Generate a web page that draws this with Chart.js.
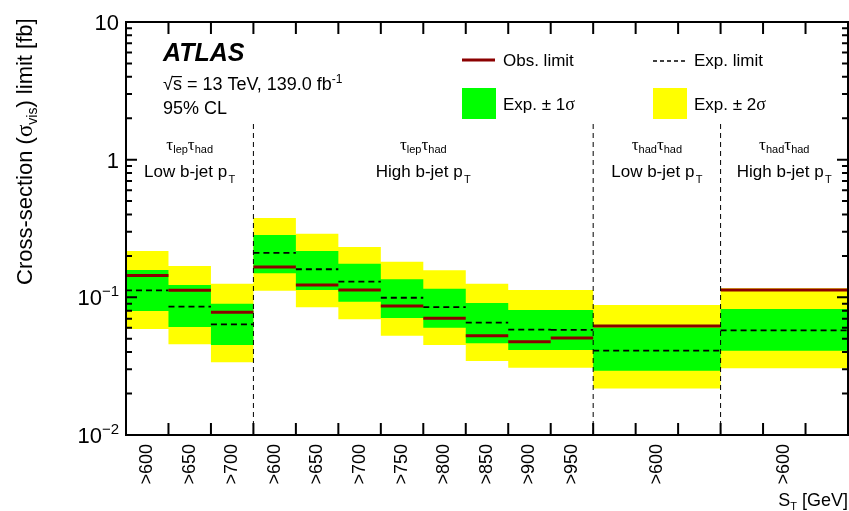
<!DOCTYPE html>
<html>
<head>
<meta charset="utf-8">
<script src="https://cdn.jsdelivr.net/npm/chart.js@4.4.1/dist/chart.umd.min.js"></script>
<style>
    html, body { margin: 0; padding: 0; background: #fff; }
    canvas { display: block; }
</style>
</head>
<body>
<canvas id="limitChart" width="849" height="511"></canvas>
<script>
// bins: left edges in "unit" positions, last entry is the right edge of the last bin
const binEdges = [0, 1, 2, 3, 4, 5, 6, 7, 8, 9, 10, 11, 14, 17];
const xLabels = ['>600', '>650', '>700', '>600', '>650', '>700', '>750', '>800', '>850', '>900', '>950', '>600', '>600'];

// limits in fb, one per bin
const obsLimit = [0.144, 0.1125, 0.078, 0.166, 0.123, 0.113, 0.0865, 0.0704, 0.0526, 0.0476, 0.0506, 0.0619, 0.113];
const expLimit = [0.1125, 0.0855, 0.0637, 0.210, 0.160, 0.130, 0.0993, 0.085, 0.0654, 0.0582, 0.058, 0.041, 0.0576];
const exp1Up   = [0.158, 0.1228, 0.0898, 0.2835, 0.217, 0.1754, 0.1351, 0.1155, 0.0909, 0.0809, 0.0809, 0.0605, 0.0822];
const exp1Down = [0.0796, 0.0608, 0.045, 0.1494, 0.113, 0.0929, 0.0707, 0.0601, 0.0463, 0.0414, 0.0414, 0.0293, 0.041];
const exp2Up   = [0.217, 0.1688, 0.1256, 0.3766, 0.2896, 0.2319, 0.1814, 0.157, 0.1256, 0.113, 0.113, 0.0879, 0.1162];
const exp2Down = [0.0589, 0.0456, 0.0337, 0.1117, 0.0846, 0.0692, 0.0526, 0.045, 0.0345, 0.0308, 0.0308, 0.0218, 0.0305];

// signal regions
const regionEdges = [0, 3, 11, 14, 17];
const regionTau1 = ['lep', 'lep', 'had', 'had'];
const regionTau2 = ['had', 'had', 'had', 'had'];
const regionJet = ['Low', 'High', 'Low', 'High'];
const separatorTop = 1.9;

// y axis
const yTicks = [0.01, 0.1, 1, 10];
const yTickBase = ['10', '10', '1', '10'];
const yTickExp = ['\u22122', '\u22121', '', ''];

const FONT = '"Liberation Sans", Arial, Helvetica, sans-serif';
const GREEK = '"Liberation Serif", "DejaVu Serif", serif';

// stepped histogram points (value held until next edge)
function stepPoints(vals) {
    const pts = vals.map((v, i) => ({ x: binEdges[i], y: v }));
    pts.push({ x: binEdges[vals.length], y: vals[vals.length - 1] });
    return pts;
}

// separate horizontal segments per bin
function segPoints(vals) {
    const pts = [];
    vals.forEach((v, i) => {
        pts.push({ x: binEdges[i], y: v }, { x: binEdges[i + 1], y: v });
        if (i < vals.length - 1) pts.push({ x: binEdges[i + 1], y: null });
    });
    return pts;
}

function separatorPoints() {
    const pts = [];
    regionEdges.slice(1, -1).forEach((e, i) => {
        if (i > 0) pts.push({ x: e, y: null });
        pts.push({ x: e, y: yTicks[0] }, { x: e, y: separatorTop });
    });
    return pts;
}

const labelPos = xLabels.map((l, i) => (binEdges[i] + binEdges[i + 1]) / 2);

// draw a run of text pieces: [text, font, dy]
function rich(ctx, parts, x, y, align) {
    let w = 0;
    parts.forEach(p => { ctx.font = p[1]; w += ctx.measureText(p[0]).width; });
    let cx = align === 'center' ? x - w / 2 : align === 'right' ? x - w : x;
    parts.forEach(p => {
        ctx.font = p[1];
        ctx.fillText(p[0], cx, y + (p[2] || 0));
        cx += ctx.measureText(p[0]).width;
    });
    return w;
}

const framePlugin = {
    id: 'framePlugin',
    afterDatasetsDraw(chart) {
        const { ctx, chartArea: a, scales: { x, y } } = chart;
        ctx.save();
        ctx.strokeStyle = '#000';
        ctx.lineWidth = 2;
        ctx.strokeRect(a.left, a.top, a.right - a.left, a.bottom - a.top);

        ctx.beginPath();
        // x ticks, inward, bottom and top
        for (let i = binEdges[0] + 1; i < binEdges[binEdges.length - 1]; i++) {
            const px = x.getPixelForValue(i);
            ctx.moveTo(px, a.bottom); ctx.lineTo(px, a.bottom - 12);
            ctx.moveTo(px, a.top); ctx.lineTo(px, a.top + 12);
        }
        // y ticks, major + minor, left and right
        for (let d = -2; d < 1 + 1; d++) {
            for (let m = 1; m <= 9; m++) {
                const v = m * Math.pow(10, d);
                if (v <= yTicks[0] || v >= yTicks[yTicks.length - 1]) continue;
                const py = y.getPixelForValue(v);
                const len = m === 1 ? 11 : 6;
                ctx.moveTo(a.left, py); ctx.lineTo(a.left + len, py);
                ctx.moveTo(a.right, py); ctx.lineTo(a.right - len, py);
            }
        }
        ctx.stroke();
        ctx.restore();
    },
    afterDraw(chart) {
        const { ctx, chartArea: a, scales: { x, y } } = chart;
        ctx.save();
        ctx.fillStyle = '#000';
        ctx.textBaseline = 'alphabetic';
        ctx.textAlign = 'left';

        // y tick labels
        yTicks.forEach((v, i) => {
            const py = y.getPixelForValue(v) + 8;
            rich(ctx, [[yTickBase[i], '22px ' + FONT], [yTickExp[i], '15px ' + FONT, -9]], a.left - 7, py, 'right');
        });

        // y title
        ctx.save();
        ctx.translate(32, 285);
        ctx.rotate(-Math.PI / 2);
        rich(ctx, [
            ['Cross-section (', '22px ' + FONT],
            ['\u03c3', '23px ' + GREEK],
            ['vis', '14px ' + FONT, 5],
            [') limit [fb]', '22px ' + FONT]
        ], 0, 0, 'left');
        ctx.restore();

        // x title
        rich(ctx, [['S', '18px ' + FONT], ['T', '11px ' + FONT, 4], [' [GeV]', '18px ' + FONT]], a.right, 506, 'right');

        // ATLAS label
        ctx.font = 'italic bold 25px ' + FONT;
        ctx.fillText('ATLAS', 163, 61);
        ctx.font = '18px ' + FONT;
        ctx.fillText('\u221a', 163, 90);
        let sx = 163 + ctx.measureText('\u221a').width;
        const sw = ctx.measureText('s').width;
        ctx.fillText('s', sx, 90);
        ctx.fillRect(sx - 1, 76, sw + 1, 1.2);
        sx += sw;
        rich(ctx, [[' = 13 TeV, 139.0 fb', '18px ' + FONT], ['-1', '12px ' + FONT, -7]], sx, 90, 'left');
        ctx.font = '18px ' + FONT;
        ctx.fillText('95% CL', 163, 114);

        // region labels
        regionJet.forEach((jet, i) => {
            const cx = x.getPixelForValue((regionEdges[i] + regionEdges[i + 1]) / 2);
            rich(ctx, [
                ['\u03c4', '17px ' + GREEK],
                [regionTau1[i], '11px ' + FONT, 3],
                ['\u03c4', '17px ' + GREEK],
                [regionTau2[i], '11px ' + FONT, 3]
            ], cx, 150, 'center');
            rich(ctx, [[jet + ' b-jet p', '17px ' + FONT], [' ', '5px ' + FONT], ['T', '11px ' + FONT, 6]], cx, 177, 'center');
        });

        // legend
        ctx.strokeStyle = '#8b0000';
        ctx.lineWidth = 3;
        ctx.beginPath(); ctx.moveTo(462, 60); ctx.lineTo(495, 60); ctx.stroke();
        ctx.strokeStyle = '#000';
        ctx.lineWidth = 1.3;
        ctx.setLineDash([4, 3]);
        ctx.beginPath(); ctx.moveTo(653, 61); ctx.lineTo(687, 61); ctx.stroke();
        ctx.setLineDash([]);
        ctx.fillStyle = '#00ff00';
        ctx.fillRect(462, 88, 34, 31);
        ctx.fillStyle = '#ffff00';
        ctx.fillRect(653, 88, 34, 31);
        ctx.fillStyle = '#000';
        ctx.font = '17px ' + FONT;
        ctx.fillText('Obs. limit', 503, 66);
        ctx.fillText('Exp. limit', 694, 66);
        rich(ctx, [['Exp. \u00b1 1', '17px ' + FONT], ['\u03c3', '18px ' + GREEK]], 503, 110, 'left');
        rich(ctx, [['Exp. \u00b1 2', '17px ' + FONT], ['\u03c3', '18px ' + GREEK]], 694, 110, 'left');
        ctx.restore();
    }
};

const bandLine = { borderColor: 'rgba(0,0,0,0)', borderWidth: 0, pointRadius: 0, stepped: true };

new Chart(document.getElementById('limitChart'), {
    type: 'line',
    data: {
        datasets: [
            Object.assign({ data: stepPoints(exp2Up), fill: false, order: 5 }, bandLine),
            Object.assign({ data: stepPoints(exp2Down), fill: '-1', backgroundColor: '#ffff00', order: 5 }, bandLine),
            Object.assign({ data: stepPoints(exp1Up), fill: false, order: 4 }, bandLine),
            Object.assign({ data: stepPoints(exp1Down), fill: '-1', backgroundColor: '#00ff00', order: 4 }, bandLine),
            {
                data: segPoints(expLimit),
                borderColor: '#000',
                borderWidth: 1.8,
                borderDash: [6, 4],
                pointRadius: 0,
                fill: false,
                spanGaps: false,
                order: 2
            },
            {
                data: segPoints(obsLimit),
                borderColor: '#8b0000',
                borderWidth: 3,
                pointRadius: 0,
                fill: false,
                spanGaps: false,
                order: 1
            },
            {
                data: separatorPoints(),
                borderColor: '#000',
                borderWidth: 1,
                borderDash: [5, 4],
                pointRadius: 0,
                fill: false,
                spanGaps: false,
                order: 0
            }
        ]
    },
    options: {
        responsive: false,
        animation: false,
        devicePixelRatio: 1,
        layout: { padding: { left: 0, top: 22, right: 1, bottom: 0 } },
        plugins: {
            legend: { display: false },
            tooltip: { enabled: false }
        },
        elements: { line: { tension: 0 } },
        scales: {
            x: {
                type: 'linear',
                min: binEdges[0],
                max: binEdges[binEdges.length - 1],
                grid: { display: false, drawTicks: false },
                border: { display: false },
                afterBuildTicks(scale) {
                    scale.ticks = labelPos.map(v => ({ value: v }));
                },
                afterFit(scale) { scale.height = 76; },
                ticks: {
                    autoSkip: false,
                    minRotation: 90,
                    maxRotation: 90,
                    padding: 9,
                    color: '#000',
                    font: { family: FONT, size: 18 },
                    callback: (value, index) => xLabels[index]
                }
            },
            y: {
                type: 'logarithmic',
                min: yTicks[0],
                max: yTicks[yTicks.length - 1],
                grid: { display: false, drawTicks: false },
                border: { display: false },
                ticks: { display: false },
                afterFit(scale) { scale.width = 126; }
            }
        }
    },
    plugins: [framePlugin]
});
</script>
</body>
</html>
